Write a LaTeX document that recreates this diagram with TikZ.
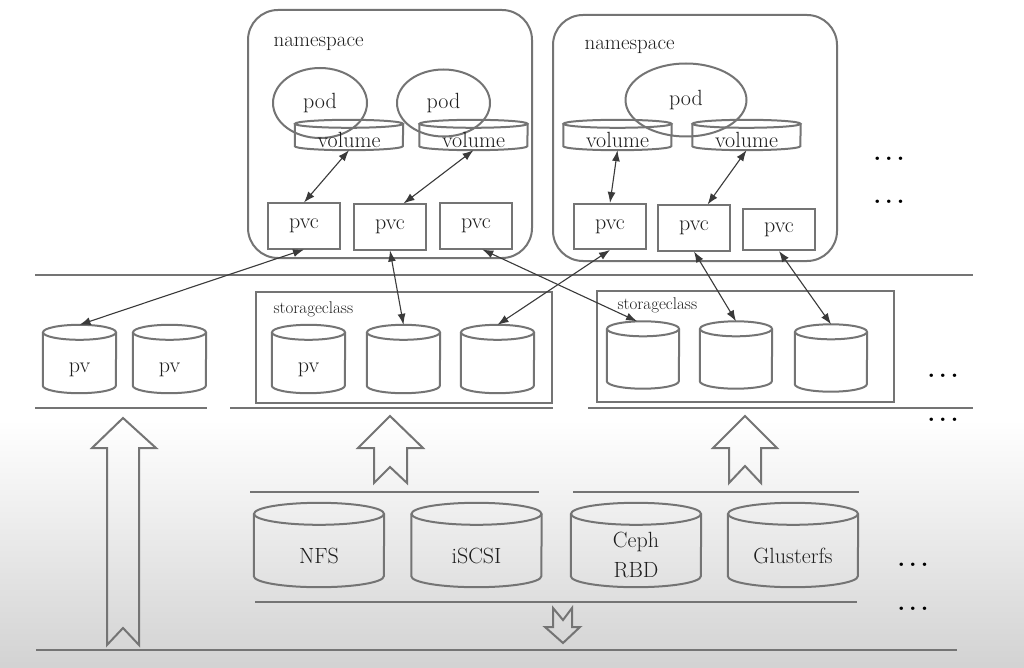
\documentclass[tikz,border=0pt]{standalone}
\usepackage{tikz}
\usetikzlibrary{shapes.geometric,arrows.meta}
\definecolor{edgegray}{HTML}{747474}
\definecolor{linkgray}{HTML}{3A3A3A}
\definecolor{inkgray}{HTML}{1E1E1E}

\newcommand\drum[7][]{%
  \node[drum,#1,minimum width=#4pt,minimum height=#5pt] (#2) at #3 {#7};
  \draw[rule] ([yshift=-#6pt]#2.north) ellipse [x radius=#4pt/2, y radius=#6pt];
  \draw[rule] ([yshift=-#6pt]#2.north west) -- ([yshift=#6pt]#2.south west)
    arc [start angle=180, end angle=360, x radius=#4pt/2, y radius=#6pt]
    -- ([yshift=-#6pt]#2.north east);
}

\begin{document}
\begin{tikzpicture}[x=1pt,y=-1pt,
  rule/.style={draw=edgegray, line width=2pt},
  txt/.style={text=inkgray, font=\fontsize{22}{30}\selectfont},
  nsbox/.style={rule, rounded corners=30pt},
  pvcbox/.style={rule, txt, minimum width=72pt, minimum height=45pt, inner sep=0pt},
  podnode/.style={rule, txt, ellipse, inner sep=0pt},
  drum/.style={txt, inner sep=0pt},
  volt/.style={text height=26pt, text depth=0pt},
  bigt/.style={text height=36pt, text depth=0pt},
  cepht/.style={align=center, text height=64pt, text depth=0pt},
  link/.style={draw=linkgray, line width=1.1pt, {Latex[length=11pt,width=8pt]}-{Latex[length=11pt,width=8pt]}},
  hollow/.style={rule, line join=miter},
  dots/.style={text=black, font=\fontsize{24}{24}\selectfont\bfseries}]
\useasboundingbox (0,0) rectangle (1024,668);
\fill[white] (0,0) rectangle (1024,668);
\shade[top color=white, bottom color=gray!35] (0,420) rectangle (1024,668);

\node[nsbox, minimum width=284pt, minimum height=248pt] (ns1) at (390,134) {};
\node[nsbox, minimum width=284pt, minimum height=246pt] (ns2) at (695,138) {};
\node[txt, anchor=base west, font=\fontsize{21}{24}\selectfont] (ns1name) at (270,47) {namespace};
\node[txt, anchor=base west, font=\fontsize{21}{24}\selectfont] (ns2name) at (581,50) {namespace};

\node[podnode, minimum width=94pt, minimum height=70pt] (pod1) at (320,103) {pod};
\node[podnode, minimum width=93pt, minimum height=67pt] (pod2) at (443.5,103) {pod};
\node[podnode, minimum width=121pt, minimum height=73pt] (pod3) at (686,100) {pod};

\drum[volt]{vol1}{(349,135)}{108}{30}{4}{volume}
\drum[volt]{vol2}{(473.5,135)}{108}{30}{4}{volume}
\drum[volt]{vol3}{(617.5,135)}{108}{30}{4}{volume}
\drum[volt]{vol4}{(746.5,135)}{108}{30}{4}{volume}

\node[pvcbox] (pvc1) at (304,226) {pvc};
\node[pvcbox] (pvc2) at (390,227) {pvc};
\node[pvcbox] (pvc3) at (476,226) {pvc};
\node[pvcbox] (pvc4) at (610,226.5) {pvc};
\node[pvcbox] (pvc5) at (694,228) {pvc};
\node[pvcbox, minimum height=41pt] (pvc6) at (779,229.5) {pvc};

\draw[link] (vol1.south) -- (pvc1.north);
\draw[link] (vol2.south) -- (pvc2.60);
\draw[link] (vol3.south) -- (pvc4.north);
\draw[link] (vol4.south) -- (pvc5.60);

\node[dots] (more1) at (889,159) {.\,.\,.};
\node[dots] (more2) at (889,202) {.\,.\,.};

\draw[rule] (35,275) -- (973,275);

\node[rule, minimum width=296pt, minimum height=111pt] (sc1) at (404,347.5) {};
\node[rule, minimum width=297pt, minimum height=111pt] (sc2) at (745.5,346.5) {};
\node[txt, anchor=base west, font=\fontsize{17}{20}\selectfont] (sc1name) at (270,313) {storageclass};
\node[txt, anchor=base west, font=\fontsize{17}{20}\selectfont] (sc2name) at (614,309) {storageclass};

\drum[volt]{pv1}{(79.5,359)}{73}{68}{7.5}{pv}
\drum[volt]{pv2}{(169.5,359)}{73}{68}{7.5}{pv}
\drum[volt]{cyl1}{(308.5,359)}{73}{68}{7.5}{pv}
\drum[volt]{cyl2}{(403.5,359)}{73}{68}{7.5}{}
\drum[volt]{cyl3}{(497.5,359)}{73}{68}{7.5}{}
\drum[volt]{cyl4}{(643,355)}{72}{67}{7.5}{}
\drum[volt]{cyl5}{(736,355)}{72}{67}{7.5}{}
\drum[volt]{cyl6}{(831,358)}{72}{67}{7.5}{}

\draw[link] (pvc1.south) -- (pv1.north);
\draw[link] (pvc2.south) -- (cyl2.north);
\draw[link] (pvc3.-75) -- (cyl4.100);
\draw[link] (pvc4.south) -- (cyl3.north);
\draw[link] (pvc5.south) -- (cyl5.north);
\draw[link] (pvc6.south) -- (cyl6.north);

\node[dots] (more3) at (943,376) {.\,.\,.};
\node[dots] (more4) at (943,420) {.\,.\,.};

\draw[rule] (35,408) -- (207,408);
\draw[rule] (230,408) -- (553,408);
\draw[rule] (588,408) -- (973,408);

\draw[hollow] (123,418) -- (156,448) -- (139,448) -- (139,645) -- (123,628) -- (107,645)
  -- (107,448) -- (92,448) -- cycle;
\draw[hollow] (390,416) -- (423,448) -- (407,448) -- (407,483) -- (390,467) -- (374,483)
  -- (374,448) -- (358,448) -- cycle;
\draw[hollow] (745,416) -- (777,448) -- (761,448) -- (761,483) -- (745,466) -- (729,483)
  -- (729,448) -- (713,448) -- cycle;

\draw[rule] (250,492) -- (539,492);
\draw[rule] (573,492) -- (859,492);

\drum[bigt]{nfs}{(319,545)}{130}{84}{11}{NFS}
\drum[bigt]{iscsi}{(476.5,545)}{130}{84}{11}{iSCSI}
\drum[cepht]{ceph}{(636,545)}{130}{84}{11}{Ceph\\RBD}
\drum[bigt]{gluster}{(793,545)}{130}{84}{11}{Glusterfs}

\node[dots] (more5) at (913,565) {.\,.\,.};
\node[dots] (more6) at (913,609) {.\,.\,.};

\draw[rule] (255,602) -- (857,602);
\draw[hollow] (553,608) -- (563,620) -- (572,608) -- (572,627) -- (580,627) -- (563,643)
  -- (545,627) -- (553,627) -- cycle;
\draw[rule] (36,650) -- (957,650);
\end{tikzpicture}
\end{document}
